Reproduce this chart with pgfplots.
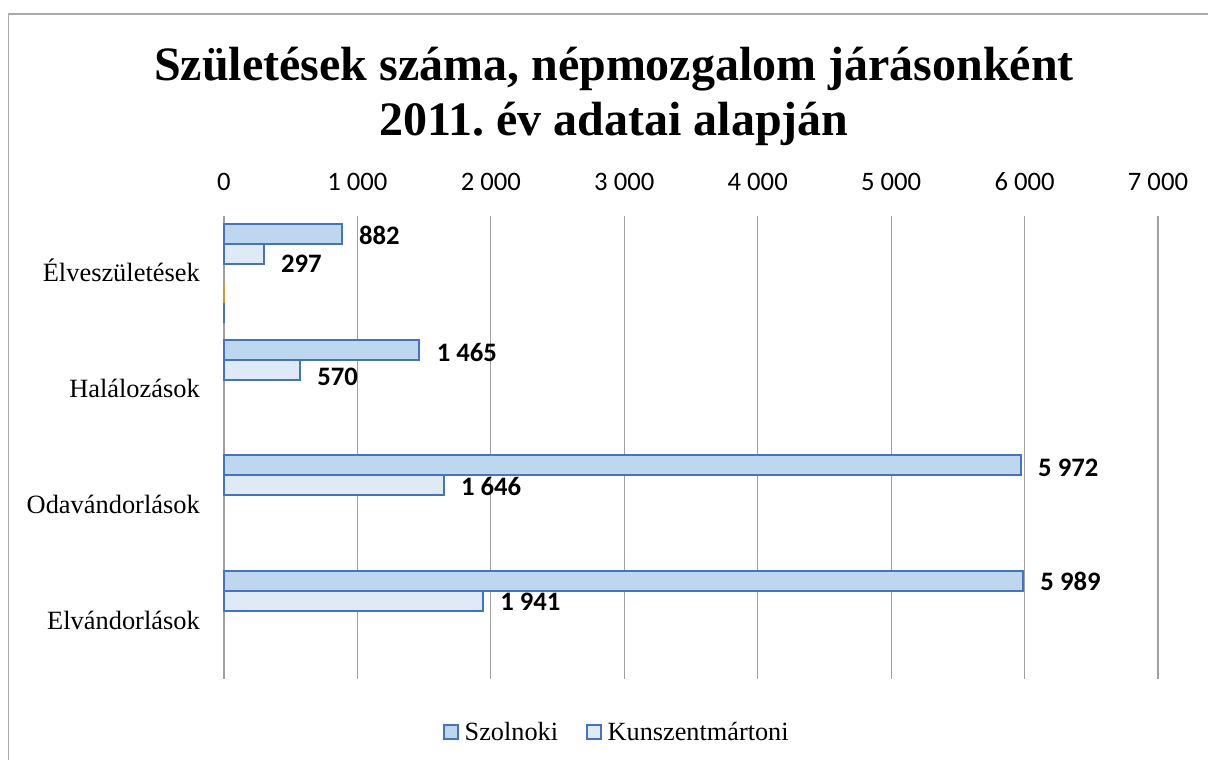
\documentclass[border=0pt]{standalone}
\usepackage{pgfplots}
\pgfplotsset{compat=1.18}
\usepackage{pgfplotstable}
\usepackage{fontspec}
\setmainfont{Liberation Serif}
\newfontfamily\carlito{Carlito}
\definecolor{edgeblue}{HTML}{4472C4}
\definecolor{fillA}{HTML}{BDD7EE}
\definecolor{fillB}{HTML}{DEEBF7}
\definecolor{gridc}{RGB}{160,160,160}
\definecolor{framec}{RGB}{170,170,170}
\definecolor{zeroorange}{HTML}{D09A30}

\pgfplotstableread[col sep=comma]{
cat,val,lab,dy
0,882,882,-1.3
1,1465,1 465,-2.2
2,5972,5 972,-2.2
3,5989,5 989,-0.5
}\szol
\pgfplotstableread[col sep=comma]{
cat,val,lab,dy
0,297,297,-7.2
1,570,570,-5.2
2,1646,1 646,-0.8
3,1941,1 941,-0.8
}\kunsz

\pgfplotsset{
  labelled/.style={
    point meta=explicit symbolic,
    nodes near coords,
    visualization depends on={\thisrow{dy} \as \dy},
    every node near coord/.append style={anchor=west, inner sep=0pt, xshift=12.3pt, yshift=\dy pt, font=\carlito\bfseries\fontsize{20}{23}\selectfont, text=black},
  }
}

\begin{document}
\begin{tikzpicture}
\useasboundingbox (0pt,0pt) rectangle (906pt,-570pt);
\draw[framec, line width=1.1pt] (6.5pt,-575pt) -- (6.5pt,-10.5pt) -- (912pt,-10.5pt);
\node[anchor=base, font=\bfseries\fontsize{36}{40}\selectfont, inner sep=0pt] at (460.5pt,-60pt) {Születések száma, népmozgalom járásonként};
\node[anchor=base, font=\bfseries\fontsize{36}{40}\selectfont, inner sep=0pt] at (460.5pt,-101.5pt) {2011.\ év adatai alapján};
\begin{axis}[
  at={(168pt,-509.25pt)}, anchor=south west,
  scale only axis, width=700.5pt, height=347.25pt,
  xmin=0, xmax=7000, ymin=-0.5, ymax=3.5, y dir=reverse,
  xtick={0,1000,2000,3000,4000,5000,6000,7000},
  xticklabels={0,1 000,2 000,3 000,4 000,5 000,6 000,7 000},
  xticklabel pos=upper,
  xticklabel style={font=\carlito\fontsize{20}{23}\selectfont, anchor=base, inner sep=0pt, yshift=19.5pt},
  ytick={0,1,2,3},
  yticklabels={Élveszületések,Halálozások,Odavándorlások,Elvándorlások},
  yticklabel style={font=\fontsize{19.8}{23}\selectfont, anchor=base east, inner sep=0pt, xshift=-18pt, yshift=-6pt},
  axis line style={draw=none},
  major tick length=0pt, tick style={draw=none},
  xmajorgrids, ymajorgrids=false,
  major grid style={gridc, line width=0.9pt},
  xbar, bar width=0.173,
  legend style={at={(0.421,-0.1145)}, anchor=center, draw=none, fill=none,
    legend columns=2, font=\fontsize{19.7}{23}\selectfont,
    /tikz/every odd column/.append style={column sep=2.5pt},
    /tikz/every even column/.append style={column sep=19pt}},
  legend image code/.code={\draw[#1] (0pt,-5.25pt) rectangle (10.5pt,5.25pt);},
  clip=false,
]
\addlegendimage{draw=edgeblue, fill=fillA, line width=1.2pt}
\addlegendentry{Szolnoki}
\addlegendimage{draw=edgeblue, fill=fillB, line width=1.2pt}
\addlegendentry{Kunszentmártoni}
\addplot[draw=edgeblue, fill=fillA, line width=1.5pt, bar shift=-0.346, labelled, forget plot] table[x=val, y=cat, meta=lab] {\szol};
\addplot[draw=edgeblue, fill=fillB, line width=1.5pt, bar shift=-0.173, labelled, forget plot] table[x=val, y=cat, meta=lab] {\kunsz};
\addplot[draw=zeroorange, line width=1.5pt, bar shift=0.165, forget plot] coordinates {(0,0)};
\addplot[draw=edgeblue, line width=1.5pt, bar shift=0.34, forget plot] coordinates {(0,0)};
\end{axis}
\end{tikzpicture}
\end{document}
